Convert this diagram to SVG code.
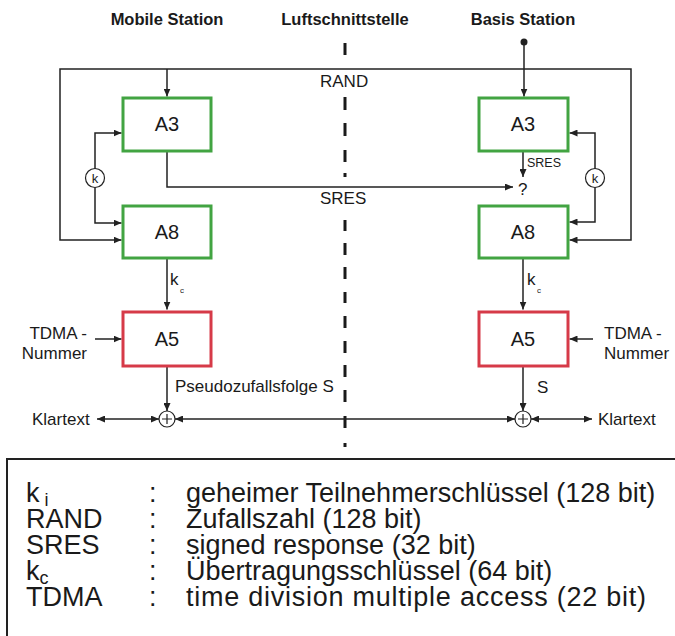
<svg xmlns="http://www.w3.org/2000/svg" width="675" height="636" viewBox="0 0 675 636">
  <defs>
    <marker id="arr" viewBox="0 0 8 7" refX="8" refY="3.5" markerWidth="8" markerHeight="7" markerUnits="userSpaceOnUse" orient="auto-start-reverse">
      <path d="M0,0 L8,3.5 L0,7 z" fill="#222"/>
    </marker>
    <style>
      text { font-family: "Liberation Sans", Arial, sans-serif; fill: #1a1a1a; }
      .title { font-size: 16.5px; font-weight: bold; text-anchor: middle; }
      .box { fill: #fff; stroke-width: 3; }
      .g { stroke: #42a442; }
      .r { stroke: #d63a48; }
      .blabel { font-size: 20px; text-anchor: middle; }
      .lbl { font-size: 17px; }
      .wire { fill: none; stroke: #222; stroke-width: 1.5; }
      .arrow { marker-end: url(#arr); }
      .both { marker-start: url(#arr); marker-end: url(#arr); }
      .knode { fill: #fff; stroke: #222; stroke-width: 1.2; }
      .leg { font-size: 27px; }
    </style>
  </defs>
  <rect width="675" height="636" fill="#fff"/>

  <!-- column headings -->
  <text class="title" x="167" y="25">Mobile Station</text>
  <text class="title" x="345" y="25">Luftschnittstelle</text>
  <text class="title" x="523" y="25">Basis Station</text>

  <!-- air interface -->
  <path id="air" d="M345,43V55 M345,97V110 M345,123V136 M345,150V162 M345,173V177 M345,220V231 M345,243V255 M345,267V279 M345,292V303 M345,316V328 M345,341V353 M345,365V377 M345,390V402 M345,416V428 M345,443V447" stroke="#1a1a1a" stroke-width="3" fill="none"/>

  <!-- connectors -->
  <g id="connectors">
    <path class="wire both" d="M121.5,240 H60 V69 H631 V240 H569.5"/>
    <path class="wire arrow" d="M167,69 V96.5"/>
    <circle cx="524" cy="42" r="3.5" fill="#222"/>
    <path class="wire arrow" d="M524,42 V96.5"/>
    <path class="wire both" d="M121.5,133 H95 V223 H121.5"/>
    <path class="wire both" d="M569.5,133 H595 V222 H569.5"/>
    <path class="wire arrow" d="M167,151 V187 H513"/>
    <path class="wire arrow" d="M523,151 V177"/>
    <path class="wire arrow" d="M167,258 V309.5"/>
    <path class="wire arrow" d="M523,258 V309.5"/>
    <path class="wire arrow" d="M95,339 H121.5"/>
    <path class="wire arrow" d="M593,339 H569.5"/>
    <path class="wire arrow" d="M167,366 V411"/>
    <path class="wire arrow" d="M523,366 V411"/>
    <path class="wire both" d="M97,419 H159"/>
    <path class="wire both" d="M175,419 H515"/>
    <path class="wire both" d="M531,419 H592"/>
  </g>

  <!-- connector labels -->
  <text class="lbl" x="320" y="87">RAND</text>
  <text class="lbl" x="320" y="204">SRES</text>
  <text x="527" y="167" font-size="12.5px">SRES</text>
  <text class="lbl" x="518" y="195">?</text>
  <text class="lbl" x="170" y="285">k</text>
  <text x="180" y="293" font-size="8px">c</text>
  <text class="lbl" x="527" y="285">k</text>
  <text x="537" y="293" font-size="8px">c</text>
  <text class="lbl" x="175" y="392">Pseudozufallsfolge S</text>
  <text class="lbl" x="537" y="393">S</text>

  <!-- Mobile Station -->
  <g id="ms-a3"><rect class="box g" x="123" y="98" width="88" height="53"/><text class="blabel" x="167" y="131">A3</text></g>
  <g id="ms-a8"><rect class="box g" x="123" y="206" width="88" height="52"/><text class="blabel" x="167" y="239">A8</text></g>
  <g id="ms-a5"><rect class="box r" x="123" y="312" width="88" height="54"/><text class="blabel" x="167" y="346">A5</text></g>
  <g id="ms-k"><circle class="knode" cx="95" cy="178" r="9.5"/><text x="95" y="182.5" font-size="13px" text-anchor="middle">k</text></g>
  <g id="ms-tdma"><text class="lbl" x="87" y="339" text-anchor="end">TDMA -</text><text class="lbl" x="87" y="359" text-anchor="end">Nummer</text></g>
  <g id="ms-xor"><circle class="knode" cx="167" cy="419" r="8"/><path d="M162,419H172M167,414V424" stroke="#222" stroke-width="1.2"/></g>
  <g id="ms-klartext"><text class="lbl" x="32" y="425">Klartext</text></g>

  <!-- Basis Station -->
  <g id="bs-a3"><rect class="box g" x="479" y="98" width="89" height="53"/><text class="blabel" x="523" y="131">A3</text></g>
  <g id="bs-a8"><rect class="box g" x="479" y="206" width="89" height="52"/><text class="blabel" x="523" y="239">A8</text></g>
  <g id="bs-a5"><rect class="box r" x="479" y="312" width="89" height="54"/><text class="blabel" x="523" y="346">A5</text></g>
  <g id="bs-k"><circle class="knode" cx="595" cy="178" r="9.5"/><text x="595" y="182.5" font-size="13px" text-anchor="middle">k</text></g>
  <g id="bs-tdma"><text class="lbl" x="604" y="339">TDMA -</text><text class="lbl" x="604" y="359">Nummer</text></g>
  <g id="bs-xor"><circle class="knode" cx="523" cy="419" r="8"/><path d="M518,419H528M523,414V424" stroke="#222" stroke-width="1.2"/></g>
  <g id="bs-klartext"><text class="lbl" x="598" y="425">Klartext</text></g>

  <!-- legend -->
  <g id="legend">
    <path d="M690,459 H7 V650" fill="none" stroke="#222" stroke-width="2"/>
    <text class="leg" x="26" y="502">k<tspan font-size="18px" dx="5" dy="4">i</tspan></text>
    <text class="leg" x="26" y="528">RAND</text>
    <text class="leg" x="26" y="554">SRES</text>
    <text class="leg" x="26" y="580">k<tspan font-size="18px" dy="4">c</tspan></text>
    <text class="leg" x="26" y="606">TDMA</text>
    <text class="leg" x="149" y="502">:</text>
    <text class="leg" x="149" y="528">:</text>
    <text class="leg" x="149" y="554">:</text>
    <text class="leg" x="149" y="580">:</text>
    <text class="leg" x="149" y="606">:</text>
    <text class="leg" x="186" y="502">geheimer Teilnehmerschlüssel (128 bit)</text>
    <text class="leg" x="186" y="528">Zufallszahl (128 bit)</text>
    <text class="leg" x="186" y="554">signed response (32 bit)</text>
    <text class="leg" x="186" y="580">Übertragungsschlüssel (64 bit)</text>
    <text class="leg" x="186" y="606" textLength="460" lengthAdjust="spacing">time division multiple access (22 bit)</text>
  </g>
</svg>
